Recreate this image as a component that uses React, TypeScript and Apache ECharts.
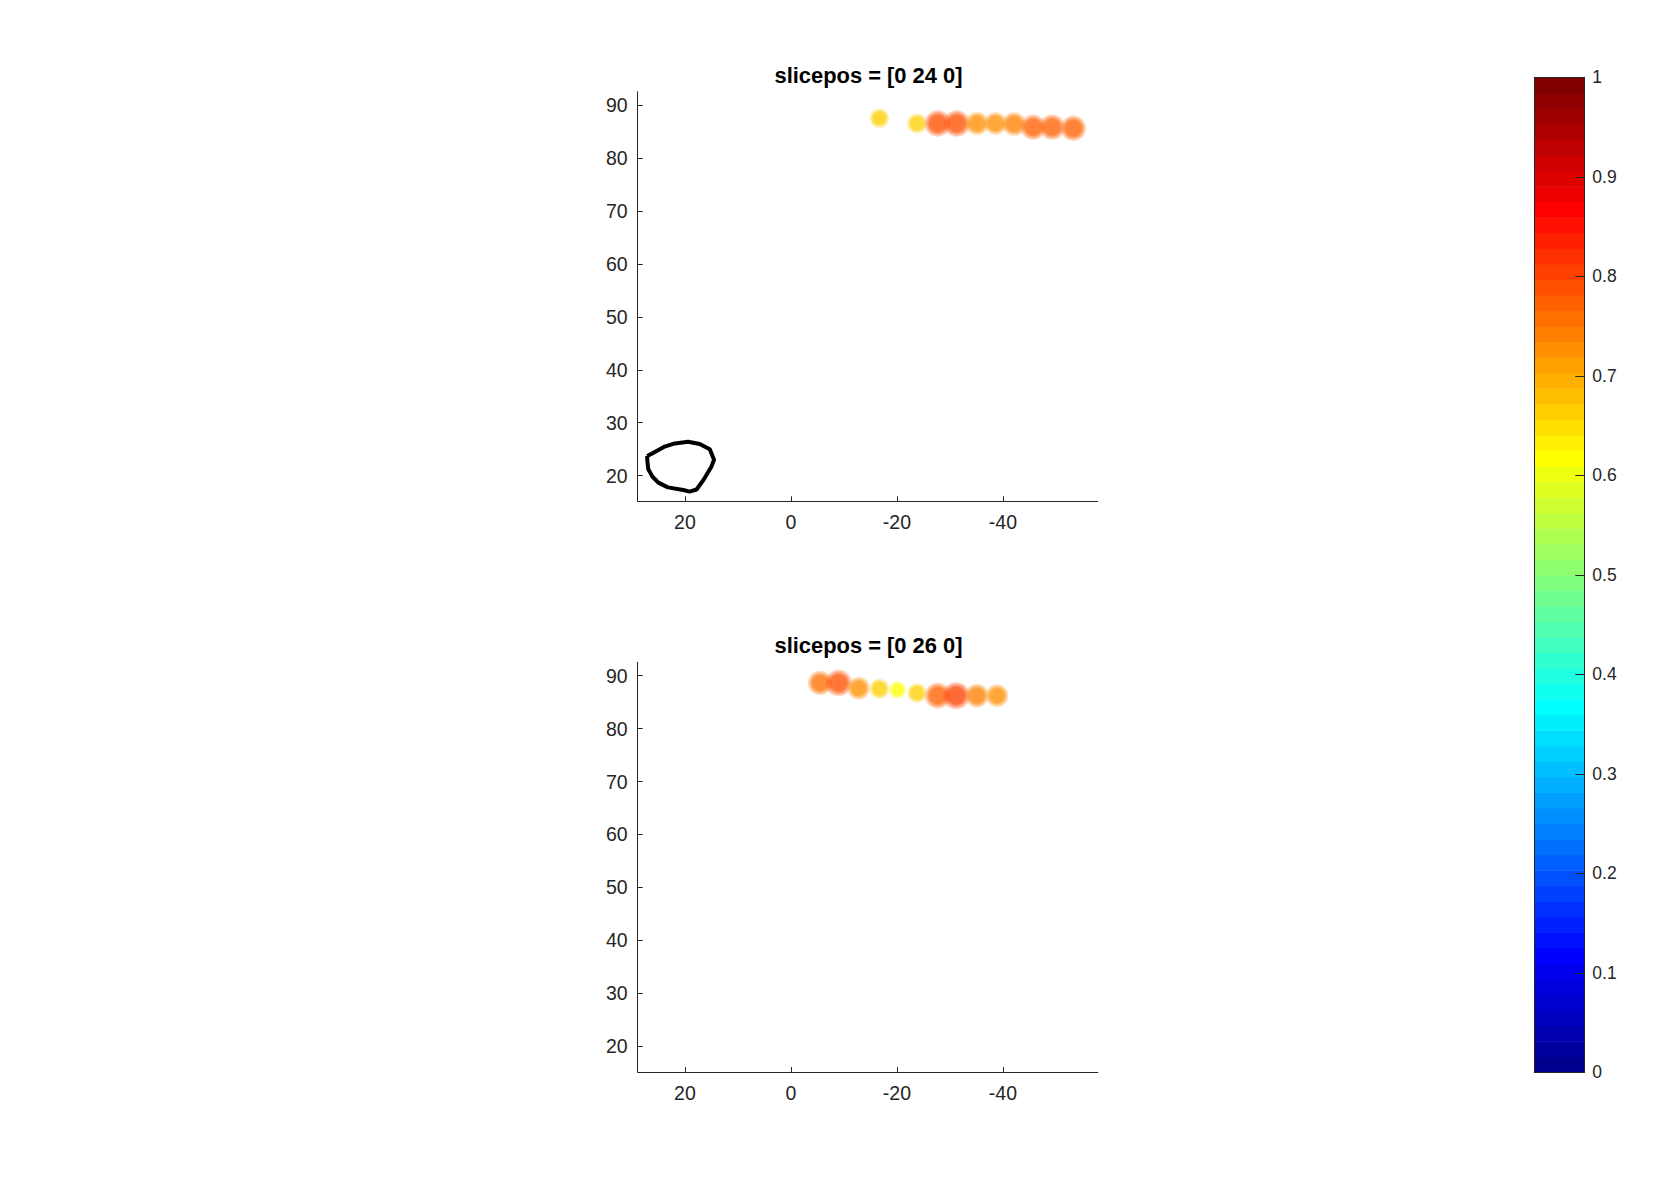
import React, { useEffect, useRef } from "react";
import * as echarts from "echarts";

const TITLES = ["slicepos = [0 24 0]", "slicepos = [0 26 0]"];
const X_TICKS = [20, 0, -20, -40];
const Y_TICKS = [20, 30, 40, 50, 60, 70, 80, 90];
const CBAR_TICKS = [0, 0.1, 0.2, 0.3, 0.4, 0.5, 0.6, 0.7, 0.8, 0.9, 1];

const TOP_X = [-16.7, -23.8, -27.7, -31.3, -35.1, -38.6, -42.1, -45.7, -49.3, -53.3];
const TOP_Y = [87.5, 86.5, 86.5, 86.5, 86.5, 86.5, 86.4, 85.8, 85.8, 85.6];
const TOP_V = [0.66, 0.67, 0.79, 0.79, 0.73, 0.72, 0.74, 0.77, 0.77, 0.77];

const BOT_X = [-5.5, -9.0, -12.8, -16.7, -20.1, -23.8, -27.7, -31.2, -35.1, -38.9];
const BOT_Y = [88.6, 88.6, 87.6, 87.5, 87.3, 86.7, 86.2, 86.2, 86.2, 86.2];
const BOT_V = [0.75, 0.79, 0.72, 0.67, 0.62, 0.66, 0.78, 0.8, 0.74, 0.72];

const OUTLINE_X = [27.1, 26.0, 23.8, 21.9, 19.4, 17.2, 15.3, 14.5, 15.0, 16.5, 17.8, 19.1, 20.3, 23.2, 25.0, 26.1, 26.9, 27.1, 27.1];
const OUTLINE_Y = [23.7, 24.3, 25.5, 26.1, 26.4, 26.0, 25.0, 23.0, 21.7, 19.2, 17.4, 17.0, 17.3, 17.8, 18.7, 19.8, 21.2, 23.0, 23.7];

const X_MIN = -57.9;
const X_MAX = 28.9;
const Y_MIN = 15.17;
const Y_MAX = 92.5;

// MATLAB jet(64)
function buildJet(n: number): number[][] {
  const m = Math.ceil(n / 4);
  const u: number[] = [];
  for (let k = 1; k <= m; k++) u.push(k / m);
  for (let k = 1; k <= m - 1; k++) u.push(1);
  for (let k = m; k >= 1; k--) u.push(k / m);
  const J = Array.from({ length: n }, () => [0, 0, 0]);
  const off = Math.ceil(m / 2) - (n % 4 === 1 ? 1 : 0);
  const g: number[] = [];
  for (let k = 1; k <= u.length; k++) g.push(off + k);
  const r = g.map((x) => x + m).filter((x) => x <= n);
  const b = g.map((x) => x - m).filter((x) => x >= 1);
  const gg = g.filter((x) => x <= n);
  r.forEach((row, i) => (J[row - 1][0] = u[i]));
  gg.forEach((row, i) => (J[row - 1][1] = u[i]));
  b.forEach((row, i) => (J[row - 1][2] = u[u.length - b.length + i]));
  return J;
}
const JET = buildJet(64);
const rgba = (c: number[], a: number) =>
  `rgba(${Math.round(c[0] * 255)},${Math.round(c[1] * 255)},${Math.round(c[2] * 255)},${a})`;
const jetAt = (v: number) => JET[Math.min(63, Math.max(0, Math.floor(v * 64)))];

const FONT = "Liberation Sans, Arial, Helvetica, sans-serif";
const INK = "#262626";

function pointData(xs: number[], ys: number[], vs: number[]) {
  return xs.map((x, i) => {
    const c = jetAt(vs[i]);
    return {
      value: [x, ys[i], vs[i]],
      symbolSize: 18 + (vs[i] - 0.62) * 55,
      itemStyle: {
        color: new echarts.graphic.RadialGradient(0.5, 0.5, 0.5, [
          { offset: 0, color: rgba(c, 1) },
          { offset: 0.6, color: rgba(c, 0.95) },
          { offset: 1, color: rgba(c, 0.12) },
        ]),
      },
    };
  });
}

export default function App() {
  const ref = useRef<HTMLDivElement>(null);
  useEffect(() => {
    if (!ref.current) return;
    const chart = echarts.init(ref.current, null, { renderer: "svg" });
    const plotX = (gi: number) => ({
      type: "value",
      gridIndex: gi,
      inverse: true,
      min: X_MIN,
      max: X_MAX,
      splitLine: { show: false },
      axisLine: { show: true, onZero: false, lineStyle: { color: INK, width: 1 } },
      axisTick: { show: true, inside: true, length: 5, lineStyle: { color: INK }, customValues: X_TICKS },
      axisLabel: { color: INK, fontSize: 19.5, fontFamily: FONT, margin: 11, customValues: X_TICKS },
    });
    const plotY = (gi: number) => ({
      type: "value",
      gridIndex: gi,
      min: Y_MIN,
      max: Y_MAX,
      splitLine: { show: false },
      axisLine: { show: true, onZero: false, lineStyle: { color: INK, width: 1 } },
      axisTick: { show: true, inside: true, length: 5, lineStyle: { color: INK }, customValues: Y_TICKS },
      axisLabel: { color: INK, fontSize: 19.5, fontFamily: FONT, margin: 10, customValues: Y_TICKS },
    });
    const hiddenAxis = (gi: number, pos: string, extra: any = {}) => ({
      type: "value",
      gridIndex: gi,
      position: pos,
      min: 0,
      max: 1,
      z: 10,
      splitLine: { show: false },
      axisLine: { show: true, onZero: false, lineStyle: { color: INK, width: 1 } },
      axisTick: { show: false },
      axisLabel: { show: false },
      ...extra,
    });
    const titleStyle = { fontSize: 21.9, fontWeight: "bold", color: "#000", fontFamily: FONT };
    const option: any = {
      animation: false,
      backgroundColor: "#ffffff",
      title: [
        { text: TITLES[0], left: 863.5, top: 59, textAlign: "center", textStyle: titleStyle },
        { text: TITLES[1], left: 863.5, top: 629.7, textAlign: "center", textStyle: titleStyle },
      ],
      grid: [
        { left: 637.7, top: 91.7, width: 460.1, height: 409.6 },
        { left: 637.7, top: 662.3, width: 460.1, height: 409.7 },
        { left: 1534.3, top: 77.3, width: 50, height: 995 },
      ],
      xAxis: [plotX(0), plotX(1), hiddenAxis(2, "bottom"), hiddenAxis(2, "top")],
      yAxis: [
        plotY(0),
        plotY(1),
        hiddenAxis(2, "right", {
          interval: 0.1,
          axisTick: { show: true, inside: true, length: 9, lineStyle: { color: INK } },
          axisLabel: {
            show: true,
            color: INK,
            fontSize: 17.5,
            fontFamily: FONT,
            margin: 8,
            formatter: (v: number) => String(Math.round(v * 10) / 10),
            customValues: CBAR_TICKS,
          },
        }),
        hiddenAxis(2, "left"),
      ],
      series: [
        {
          type: "line",
          xAxisIndex: 0,
          yAxisIndex: 0,
          data: OUTLINE_X.map((x, i) => [x, OUTLINE_Y[i]]),
          symbol: "none",
          lineStyle: { color: "#000", width: 4, join: "round" },
          z: 3,
        },
        {
          type: "scatter",
          xAxisIndex: 0,
          yAxisIndex: 0,
          data: pointData(TOP_X, TOP_Y, TOP_V),
          z: 4,
        },
        {
          type: "scatter",
          xAxisIndex: 1,
          yAxisIndex: 1,
          data: pointData(BOT_X, BOT_Y, BOT_V),
          z: 4,
        },
        {
          type: "custom",
          xAxisIndex: 2,
          yAxisIndex: 2,
          data: JET.map((_, i) => [0.5, (i + 0.5) / 64, i]),
          renderItem: (params: any, api: any) => {
            const i = api.value(2);
            const p0 = api.coord([0, i / 64]);
            const p1 = api.coord([1, (i + 1) / 64]);
            return {
              type: "rect",
              shape: { x: p0[0], y: p1[1], width: p1[0] - p0[0], height: p0[1] - p1[1] + 0.6 },
              style: { fill: rgba(JET[i], 1) },
            };
          },
          z: 2,
        },
      ],
    };
    chart.setOption(option);
    return () => chart.dispose();
  }, []);
  return (
    <div
      ref={ref}
      style={{ position: "fixed", left: 0, top: 0, width: 1676, height: 1204, background: "#fff" }}
    />
  );
}
